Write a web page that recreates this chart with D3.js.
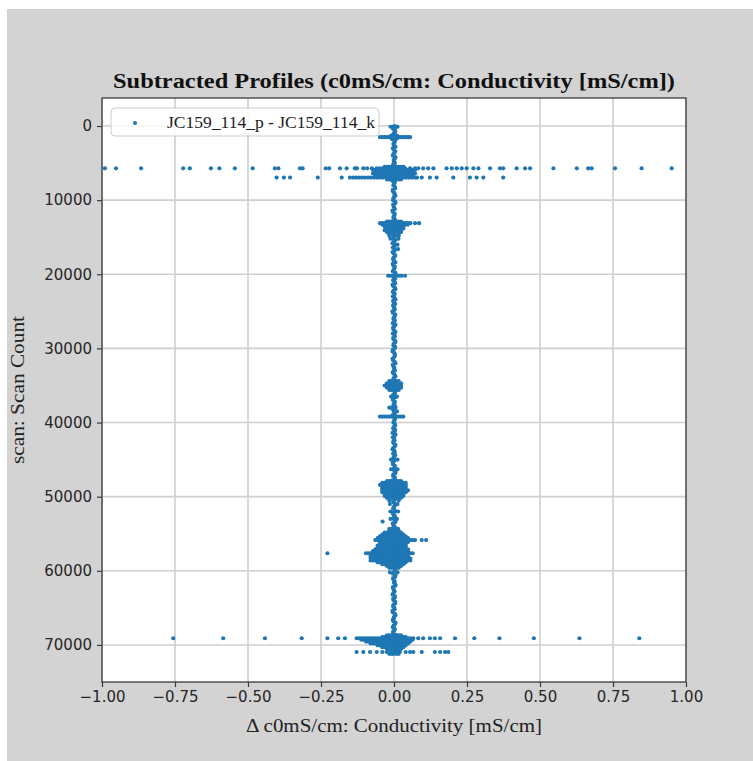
<!DOCTYPE html>
<html>
<head>
<meta charset="utf-8">
<title>Subtracted Profiles</title>
<script src="https://cdn.jsdelivr.net/npm/d3@7"></script>
<style>
  body { margin: 0; background: #fff; }
  svg { display: block; }
</style>
</head>
<body>
<script>
// Canvas
const W = 753, H = 761;
const plot = { left: 102, right: 686, top: 98, bottom: 682 };

// Axis ticks
const xTicks = [-1, -0.75, -0.5, -0.25, 0, 0.25, 0.5, 0.75, 1];
const yTicks = [0, 10000, 20000, 30000, 40000, 50000, 60000, 70000];

const title = "Subtracted Profiles (c0mS/cm: Conductivity [mS/cm])";
const xLabel = "\u0394 c0mS/cm: Conductivity [mS/cm]";
const yLabel = "scan: Scan Count";
const seriesName = "JC159_114_p - JC159_114_k";

// main trace along the whole profile: [scan, delta]
const spine = [
  [0,0.002],[400,-0.003],[800,0.004],[1200,0.001],[1600,-0.004],[2000,0.003],[2400,-0.002],[2800,0.005],[3200,-0.001],[3600,0.002],
  [4000,-0.004],[4400,0.003],[4800,0.000],[5200,-0.003],[5600,0.005],[6000,-0.002],[6400,0.004],[6800,-0.005],[7200,0.001],[7600,0.003],
  [8000,-0.002],[8400,0.004],[8800,-0.004],[9200,0.002],[9600,0.000],[10000,-0.003],[10400,0.005],[10800,-0.001],[11200,0.003],[11600,-0.004],
  [12000,0.002],[12400,-0.002],[12800,0.004],[13200,-0.005],[13600,0.001],[14000,0.003],[14400,-0.003],[14800,0.005],[15200,-0.002],[15600,0.000],
  [16000,0.004],[16400,-0.004],[16800,0.002],[17200,-0.001],[17600,0.003],[18000,-0.003],[18400,0.005],[18800,-0.002],[19200,0.001],[19600,-0.004],
  [20000,0.003],[20400,0.000],[20800,-0.003],[21200,0.004],[21600,-0.002],[22000,0.005],[22400,-0.004],[22800,0.001],[23200,0.002],[23600,-0.003],
  [24000,0.004],[24400,-0.001],[24800,0.002],[25200,-0.004],[25600,0.003],[26000,-0.002],[26400,0.000],[26800,0.005],[27200,-0.003],[27600,0.001],
  [28000,-0.004],[28400,0.003],[28800,-0.001],[29200,0.004],[29600,-0.002],[30000,0.002],[30400,-0.005],[30800,0.003],[31200,0.000],[31600,-0.003],
  [32000,0.005],[32400,-0.002],[32800,0.001],[33200,-0.004],[33600,0.003],[34000,-0.001],[34400,0.004],[34800,-0.003],[35200,0.002],[35600,-0.002],
  [36000,0.004],[36400,0.000],[36800,-0.004],[37200,0.003],[37600,-0.002],[38000,0.005],[38400,-0.001],[38800,0.002],[39200,-0.004],[39600,0.003],
  [40000,-0.002],[40400,0.004],[40800,-0.003],[41200,0.001],[41600,0.005],[42000,-0.004],[42400,0.002],[42800,-0.001],[43200,0.003],[43600,-0.005],
  [44000,0.002],[44400,0.004],[44800,-0.002],[45200,0.000],[45600,-0.004],[46000,0.003],[46400,-0.001],[46800,0.005],[47200,-0.003],[47600,0.002],
  [48000,-0.004],[48400,0.003],[48800,0.001],[49200,-0.002],[49600,0.004],[50000,-0.005],[50400,0.002],[50800,-0.001],[51200,0.003],[51600,-0.003],
  [52000,0.005],[52400,-0.002],[52800,0.000],[53200,0.004],[53600,-0.004],[54000,0.002],[54400,-0.003],[54800,0.003],[55200,-0.001],[55600,0.004],
  [56000,-0.005],[56400,0.002],[56800,-0.002],[57200,0.004],[57600,0.001],[58000,-0.003],[58400,0.005],[58800,-0.004],[59200,0.002],[59600,-0.001],
  [60000,0.003],[60400,-0.004],[60800,0.004],[61200,-0.002],[61600,0.000],[62000,0.005],[62400,-0.003],[62800,0.002],[63200,-0.005],[63600,0.003],
  [64000,-0.001],[64400,0.004],[64800,-0.003],[65200,0.002],[65600,-0.004],[66000,0.005],[66400,0.000],[66800,-0.002],[67200,0.003],[67600,-0.004],
  [68000,0.002],[68400,-0.003],[68800,0.004],[69200,-0.001],[69600,0.003],[70000,-0.005],[70400,0.002],[70800,0.004],[71200,-0.002]
];

// in-between samples of the same trace: [scan, delta]
const spineMid = [
  [200,-0.003],[600,0.004],[1000,-0.001],[1400,0.003],[1800,-0.005],[2200,0.002],[2600,0.000],[3000,-0.004],[3400,0.004],[3800,-0.002],
  [4200,0.005],[4600,-0.001],[5000,0.003],[5400,-0.004],[5800,0.001],[6200,0.004],[6600,-0.003],[7000,0.002],[7400,-0.005],[7800,0.000],
  [8200,0.003],[8600,-0.004],[9000,0.001],[9400,0.005],[9800,-0.002],[10200,0.004],[10600,-0.003],[11000,0.000],[11400,-0.005],[11800,0.002],
  [12200,-0.001],[12600,0.003],[13000,-0.004],[13400,0.002],[13800,0.005],[14200,-0.003],[14600,0.001],[15000,-0.002],[15400,0.004],[15800,-0.005],
  [16200,0.001],[16600,0.003],[17000,-0.005],[17400,0.004],[17800,-0.002],[18200,0.000],[18600,-0.004],[19000,0.003],[19400,-0.001],[19800,0.005],
  [20200,-0.002],[20600,0.004],[21000,0.001],[21400,-0.005],[21800,0.003],[22200,-0.001],[22600,0.002],[23000,-0.004],[23400,0.005],[23800,0.000],
  [24200,-0.003],[24600,0.002],[25000,-0.005],[25400,0.004],[25800,0.000],[26200,0.003],[26600,-0.004],[27000,0.001],[27400,-0.002],[27800,0.005],
  [28200,0.002],[28600,-0.003],[29000,0.005],[29400,-0.001],[29800,0.004],[30200,-0.004],[30600,0.001],[31000,0.003],[31400,-0.005],[31800,0.002],
  [32200,-0.004],[32600,0.001],[33000,0.003],[33400,-0.002],[33800,0.005],[34200,-0.003],[34600,0.000],[35000,0.004],[35400,-0.001],[35800,0.003],
  [36200,-0.002],[36600,0.005],[37000,-0.003],[37400,0.001],[37800,0.004],[38200,-0.004],[38600,0.002],[39000,-0.005],[39400,0.003],[39800,0.000],
  [40200,0.003],[40600,-0.001],[41000,0.004],[41400,-0.005],[41800,0.002],[42200,0.000],[42600,-0.003],[43000,0.005],[43400,-0.002],[43800,0.001],
  [44200,-0.003],[44600,0.000],[45000,0.004],[45400,-0.004],[45800,0.002],[46200,-0.001],[46600,0.005],[47000,-0.002],[47400,0.003],[47800,-0.005],
  [48200,0.001],[48600,-0.002],[49000,0.005],[49400,-0.004],[49800,0.000],[50200,0.003],[50600,-0.003],[51000,0.004],[51400,-0.001],[51800,0.002],
  [52200,-0.004],[52600,0.003],[53000,-0.001],[53400,0.005],[53800,-0.003],[54200,0.001],[54600,0.004],[55000,-0.002],[55400,0.003],[55800,-0.005],
  [56200,0.002],[56600,-0.004],[57000,0.005],[57400,0.000],[57800,-0.002],[58200,0.004],[58600,-0.003],[59000,0.001],[59400,-0.005],[59800,0.003],
  [60200,-0.001],[60600,0.005],[61000,-0.003],[61400,0.002],[61800,0.004],[62200,-0.004],[62600,0.000],[63000,-0.002],[63400,0.003],[63800,-0.003],
  [64200,0.004],[64600,-0.002],[65000,0.001],[65400,-0.005],[65800,0.003],[66200,0.000],[66600,-0.004],[67000,0.005],[67400,-0.001],[67800,0.002],
  [68200,-0.003],[68600,0.004],[69000,-0.001],[69400,0.002],[69800,-0.004],[70200,0.003],[70600,0.001],[71000,-0.002]
];

// excursions away from the trace: [scan, deltas at that scan]
const bursts = [
  [100, [-0.012, -0.006, 0.008, 0.012]],
  [1300, [-0.010, 0.010]],
  [1500, [-0.048, -0.041, -0.034, -0.027, -0.020, -0.013, -0.006, 0.007, 0.014, 0.021, 0.028, 0.035, 0.042, 0.049, 0.055]],
  [1700, [-0.008, 0.010]],
  [5500, [-0.032, -0.024, -0.016, -0.008, 0.008, 0.016, 0.024, 0.032]],
  [5700, [-0.990, -0.952, -0.866, -0.722, -0.699, -0.627, -0.598, -0.545, -0.484, -0.408, -0.396, -0.322, -0.313, -0.234, -0.222,
          -0.185, -0.162, -0.134, -0.127, -0.105, -0.092, -0.076, -0.059, -0.048, -0.038, -0.027, -0.017, 0.021, 0.038, 0.055,
          0.072, 0.083, 0.100, 0.117, 0.135, 0.180, 0.198, 0.215, 0.232, 0.249, 0.272, 0.289, 0.329, 0.363, 0.374, 0.420, 0.449,
          0.466, 0.546, 0.626, 0.665, 0.677, 0.757, 0.848, 0.951]],
  [5900, [-0.072, -0.064, -0.056, -0.048, -0.040, -0.032, -0.024, -0.016, -0.008, 0.008, 0.016, 0.024, 0.032, 0.040, 0.048, 0.056, 0.064, 0.072]],
  [6150, [-0.064, -0.056, -0.048, -0.040, -0.032, -0.024, -0.016, -0.008, 0.008, 0.016, 0.024, 0.032, 0.040, 0.048, 0.056, 0.064]],
  [6400, [-0.072, -0.064, -0.056, -0.048, -0.040, -0.032, -0.024, -0.016, -0.008, 0.008, 0.016, 0.024, 0.032, 0.040, 0.048, 0.056, 0.064, 0.072]],
  [6650, [-0.064, -0.056, -0.048, -0.040, -0.032, -0.024, -0.016, -0.008, 0.008, 0.016, 0.024, 0.032, 0.040, 0.048, 0.056, 0.064]],
  [6950, [-0.402, -0.377, -0.356, -0.261, -0.179, -0.151, -0.140, -0.130, -0.120, -0.110, -0.100, -0.089, -0.079, -0.068, -0.058,
          -0.048, -0.038, -0.027, -0.015, 0.015, 0.031, 0.041, 0.051, 0.062, 0.072, 0.079, 0.095, 0.123, 0.146, 0.203, 0.260,
          0.283, 0.306, 0.374]],
  [7200, [-0.024, -0.016, -0.008, 0.008, 0.016, 0.024]],
  [12900, [-0.024, -0.016, -0.008, 0.008, 0.016, 0.024]],
  [13100, [-0.048, -0.040, -0.032, -0.024, -0.016, -0.008, 0.008, 0.016, 0.024, 0.032, 0.040, 0.048, 0.056, 0.072, 0.086]],
  [13300, [-0.040, -0.032, -0.024, -0.016, -0.008, 0.008, 0.016, 0.024, 0.032, 0.040, 0.048]],
  [13550, [-0.032, -0.024, -0.016, -0.008, 0.008, 0.016, 0.024, 0.032]],
  [13800, [-0.024, -0.016, -0.008, 0.008, 0.016, 0.024, 0.032]],
  [14050, [-0.032, -0.024, -0.016, -0.008, 0.008, 0.016, 0.024]],
  [14300, [-0.024, -0.016, -0.008, 0.008, 0.016, 0.024]],
  [14550, [-0.016, -0.008, 0.008, 0.016]],
  [14800, [-0.016, 0.016]],
  [15200, [-0.012, 0.015]],
  [16000, [0.012]],
  [16600, [0.014]],
  [20200, [-0.020, -0.012, 0.010, 0.018, 0.026, 0.038]],
  [34400, [-0.016, -0.008, 0.008, 0.016]],
  [34700, [-0.024, -0.016, -0.008, 0.008, 0.016, 0.024]],
  [35000, [-0.032, -0.024, -0.016, -0.008, 0.008, 0.016, 0.024]],
  [35300, [-0.024, -0.016, -0.008, 0.008, 0.016, 0.024]],
  [35600, [-0.016, -0.008, 0.008, 0.016]],
  [36500, [-0.010, 0.010]],
  [38000, [-0.016, -0.008]],
  [38500, [0.010]],
  [39200, [-0.048, -0.040, -0.032, -0.024, -0.016, -0.008, 0.008, 0.016, 0.024, 0.032]],
  [45000, [-0.010, 0.012]],
  [46300, [-0.010, 0.012]],
  [47900, [-0.024, -0.016, -0.008, 0.008, 0.016, 0.024]],
  [48150, [-0.040, -0.032, -0.024, -0.016, -0.008, 0.008, 0.016, 0.024, 0.032, 0.040]],
  [48400, [-0.048, -0.040, -0.032, -0.024, -0.016, -0.008, 0.008, 0.016, 0.024, 0.032, 0.040]],
  [48650, [-0.040, -0.032, -0.024, -0.016, -0.008, 0.008, 0.016, 0.024, 0.032, 0.040]],
  [48900, [-0.040, -0.032, -0.024, -0.016, -0.008, 0.008, 0.016, 0.024, 0.032, 0.040]],
  [49150, [-0.040, -0.032, -0.024, -0.016, -0.008, 0.008, 0.016, 0.024, 0.032, 0.040, 0.048]],
  [49400, [-0.040, -0.032, -0.024, -0.016, -0.008, 0.008, 0.016, 0.024, 0.032, 0.040]],
  [49650, [-0.032, -0.024, -0.016, -0.008, 0.008, 0.016, 0.024, 0.032]],
  [49900, [-0.032, -0.024, -0.016, -0.008, 0.008, 0.016, 0.024, 0.032]],
  [50150, [-0.024, -0.016, -0.008, 0.008, 0.016, 0.024]],
  [50500, [-0.016, 0.016]],
  [51000, [-0.014, 0.012]],
  [52000, [-0.012, 0.014]],
  [53000, [-0.012, 0.010]],
  [53360, [-0.039]],
  [54350, [-0.016, -0.008, 0.008, 0.014]],
  [54600, [-0.016, -0.008, 0.008, 0.016]],
  [54850, [-0.032, -0.024, -0.016, -0.008, 0.008, 0.016, 0.024]],
  [55100, [-0.040, -0.032, -0.024, -0.016, -0.008, 0.008, 0.016, 0.024, 0.032]],
  [55350, [-0.048, -0.040, -0.032, -0.024, -0.016, -0.008, 0.008, 0.016, 0.024, 0.032, 0.040]],
  [55600, [-0.056, -0.048, -0.040, -0.032, -0.024, -0.016, -0.008, 0.008, 0.016, 0.024, 0.032, 0.040, 0.048]],
  [55850, [-0.064, -0.056, -0.048, -0.040, -0.032, -0.024, -0.016, -0.008, 0.008, 0.016, 0.024, 0.032, 0.040, 0.048, 0.056, 0.064, 0.072, 0.095, 0.110]],
  [56100, [-0.048, -0.040, -0.032, -0.024, -0.016, -0.008, 0.008, 0.016, 0.024, 0.032, 0.040, 0.048]],
  [56350, [-0.048, -0.040, -0.032, -0.024, -0.016, -0.008, 0.008, 0.016, 0.024, 0.032, 0.040]],
  [56600, [-0.056, -0.048, -0.040, -0.032, -0.024, -0.016, -0.008, 0.008, 0.016, 0.024, 0.032, 0.040]],
  [56850, [-0.056, -0.048, -0.040, -0.032, -0.024, -0.016, -0.008, 0.008, 0.016, 0.024, 0.032, 0.040]],
  [57100, [-0.064, -0.056, -0.048, -0.040, -0.032, -0.024, -0.016, -0.008, 0.008, 0.016, 0.024, 0.032, 0.040, 0.048]],
  [57350, [-0.072, -0.064, -0.056, -0.048, -0.040, -0.032, -0.024, -0.016, -0.008, 0.008, 0.016, 0.024, 0.032, 0.040, 0.048]],
  [57630, [-0.228, -0.096, -0.088, -0.080, -0.072, -0.064, -0.056, -0.048, -0.040, -0.032, -0.024, -0.016, -0.008, 0.008, 0.016, 0.024, 0.032, 0.040, 0.048, 0.056, 0.064]],
  [57850, [-0.080, -0.072, -0.064, -0.056, -0.048, -0.040, -0.032, -0.024, -0.016, -0.008, 0.008, 0.016, 0.024, 0.032, 0.040, 0.048]],
  [58100, [-0.080, -0.072, -0.064, -0.056, -0.048, -0.040, -0.032, -0.024, -0.016, -0.008, 0.008, 0.016, 0.024, 0.032, 0.040, 0.048]],
  [58350, [-0.080, -0.072, -0.064, -0.056, -0.048, -0.040, -0.032, -0.024, -0.016, -0.008, 0.008, 0.016, 0.024, 0.032, 0.040, 0.048, 0.056]],
  [58600, [-0.080, -0.072, -0.064, -0.056, -0.048, -0.040, -0.032, -0.024, -0.016, -0.008, 0.008, 0.016, 0.024, 0.032, 0.040, 0.048, 0.056]],
  [58850, [-0.056, -0.048, -0.040, -0.032, -0.024, -0.016, -0.008, 0.008, 0.016, 0.024, 0.032, 0.040]],
  [59100, [-0.040, -0.032, -0.024, -0.016, -0.008, 0.008, 0.016, 0.024, 0.032]],
  [59350, [-0.024, -0.016, -0.008, 0.008, 0.016, 0.024]],
  [59600, [-0.016, -0.008, 0.008, 0.016]],
  [60200, [-0.014, 0.012]],
  [68700, [-0.024, -0.016, -0.008, 0.008, 0.016, 0.024]],
  [68950, [-0.040, -0.032, -0.024, -0.016, -0.008, 0.008, 0.016, 0.024, 0.032, 0.040]],
  [69100, [-0.756, -0.585, -0.442, -0.316, -0.228, -0.191, -0.168, -0.128, -0.120, -0.112, -0.104, -0.096, -0.088, -0.080, -0.072,
           -0.064, -0.056, -0.048, -0.040, -0.032, -0.024, -0.016, -0.008, 0.008, 0.016, 0.024, 0.032, 0.040, 0.048, 0.056,
           0.066, 0.083, 0.100, 0.123, 0.140, 0.158, 0.209, 0.275, 0.361, 0.479, 0.635, 0.840]],
  [69300, [-0.112, -0.104, -0.096, -0.088, -0.080, -0.072, -0.064, -0.056, -0.048, -0.040, -0.032, -0.024, -0.016, -0.008, 0.008, 0.016, 0.024, 0.032, 0.040, 0.048, 0.056, 0.064]],
  [69550, [-0.096, -0.088, -0.080, -0.072, -0.064, -0.056, -0.048, -0.040, -0.032, -0.024, -0.016, -0.008, 0.008, 0.016, 0.024, 0.032, 0.040, 0.048, 0.056]],
  [69800, [-0.080, -0.072, -0.064, -0.056, -0.048, -0.040, -0.032, -0.024, -0.016, -0.008, 0.008, 0.016, 0.024, 0.032, 0.040, 0.048]],
  [70050, [-0.056, -0.048, -0.040, -0.032, -0.024, -0.016, -0.008, 0.008, 0.016, 0.024, 0.032, 0.040]],
  [70300, [-0.040, -0.032, -0.024, -0.016, -0.008, 0.008, 0.016, 0.024, 0.032]],
  [70550, [-0.024, -0.016, -0.008, 0.008, 0.016, 0.024]],
  [70950, [-0.128, -0.105, -0.082, -0.059, -0.040, -0.025, -0.012, 0.012, 0.020, 0.040, 0.055, 0.066, 0.095, 0.140, 0.158, 0.175, 0.186]],
  [71200, [-0.016, -0.008, 0.008, 0.016]]
];

// flatten into points
let points = spine.concat(spineMid).map(d => ({ scan: d[0], dx: d[1] }));
bursts.forEach(b => b[1].forEach(v => points.push({ scan: b[0], dx: v })));

const xScale = d3.scaleLinear().domain([-1, 1]).range([plot.left, plot.right]);
const yScale = d3.scaleLinear().domain([-3780, 75000]).range([plot.top, plot.bottom]);

const svg = d3.select("body").append("svg")
  .attr("width", W)
  .attr("height", H);

// grey figure background
svg.append("rect")
  .attr("x", 7).attr("y", 9)
  .attr("width", W - 7).attr("height", H - 9)
  .attr("fill", "#d3d3d3");

// plot area
svg.append("rect")
  .attr("x", plot.left).attr("y", plot.top)
  .attr("width", plot.right - plot.left).attr("height", plot.bottom - plot.top)
  .attr("fill", "#ffffff");

// grid
const grid = svg.append("g").attr("stroke", "#cfcfcf").attr("stroke-width", 1.6);
grid.selectAll("line.gx").data(xTicks).enter().append("line")
  .attr("x1", d => xScale(d)).attr("x2", d => xScale(d))
  .attr("y1", plot.top).attr("y2", plot.bottom);
grid.selectAll("line.gy").data(yTicks).enter().append("line")
  .attr("x1", plot.left).attr("x2", plot.right)
  .attr("y1", d => yScale(d)).attr("y2", d => yScale(d));

// points
svg.append("g").selectAll("circle")
  .data(points)
  .enter()
  .append("circle")
  .attr("cx", d => xScale(d.dx))
  .attr("cy", d => yScale(d.scan))
  .attr("r", 2.1)
  .attr("fill", "#1f77b4");

// frame
svg.append("rect")
  .attr("x", plot.left).attr("y", plot.top)
  .attr("width", plot.right - plot.left).attr("height", plot.bottom - plot.top)
  .attr("fill", "none")
  .attr("stroke", "#3a3a3a")
  .attr("stroke-width", 1.3);

// axes
const xAxis = d3.axisBottom(xScale)
  .tickValues(xTicks)
  .tickFormat(d3.format(".2f"))
  .tickSize(5)
  .tickPadding(4);
const gx = svg.append("g")
  .attr("transform", "translate(0," + plot.bottom + ")")
  .call(xAxis);

const yAxis = d3.axisLeft(yScale)
  .tickValues(yTicks)
  .tickFormat(d => String(d))
  .tickSize(5)
  .tickPadding(5);
const gy = svg.append("g")
  .attr("transform", "translate(" + plot.left + ",0)")
  .call(yAxis);

[gx, gy].forEach(g => {
  g.select(".domain").remove();
  g.selectAll(".tick line").attr("stroke", "#3a3a3a").attr("stroke-width", 1.2);
  g.selectAll(".tick text")
    .attr("fill", "#262626")
    .style("font-family", "'DejaVu Sans', sans-serif")
    .style("font-size", "15px");
});

// title and labels
svg.append("text")
  .attr("x", (plot.left + plot.right) / 2)
  .attr("y", 88)
  .attr("text-anchor", "middle")
  .attr("textLength", 562)
  .attr("lengthAdjust", "spacingAndGlyphs")
  .style("font-family", "'Liberation Serif', serif")
  .style("font-weight", "bold")
  .style("font-size", "22px")
  .attr("fill", "#111")
  .text(title);

svg.append("text")
  .attr("x", (plot.left + plot.right) / 2)
  .attr("y", 732)
  .attr("text-anchor", "middle")
  .attr("textLength", 296)
  .attr("lengthAdjust", "spacingAndGlyphs")
  .style("font-family", "'Liberation Serif', serif")
  .style("font-size", "18px")
  .attr("fill", "#222")
  .text(xLabel);

svg.append("text")
  .attr("transform", "translate(24," + 390 + ") rotate(-90)")
  .attr("text-anchor", "middle")
  .attr("textLength", 148)
  .attr("lengthAdjust", "spacingAndGlyphs")
  .style("font-family", "'Liberation Serif', serif")
  .style("font-size", "18px")
  .attr("fill", "#222")
  .text(yLabel);

// legend
const lg = svg.append("g");
lg.append("rect")
  .attr("x", 111).attr("y", 108)
  .attr("width", 268).attr("height", 28)
  .attr("rx", 4)
  .attr("fill", "#ffffff").attr("fill-opacity", 0.85)
  .attr("stroke", "#cccccc").attr("stroke-width", 1);
lg.append("circle")
  .attr("cx", 135).attr("cy", 123)
  .attr("r", 2.1)
  .attr("fill", "#1f77b4");
lg.append("text")
  .attr("x", 167).attr("y", 128)
  .attr("textLength", 208)
  .attr("lengthAdjust", "spacingAndGlyphs")
  .style("font-family", "'Liberation Serif', serif")
  .style("font-size", "16px")
  .attr("fill", "#222")
  .text(seriesName);
</script>
</body>
</html>
